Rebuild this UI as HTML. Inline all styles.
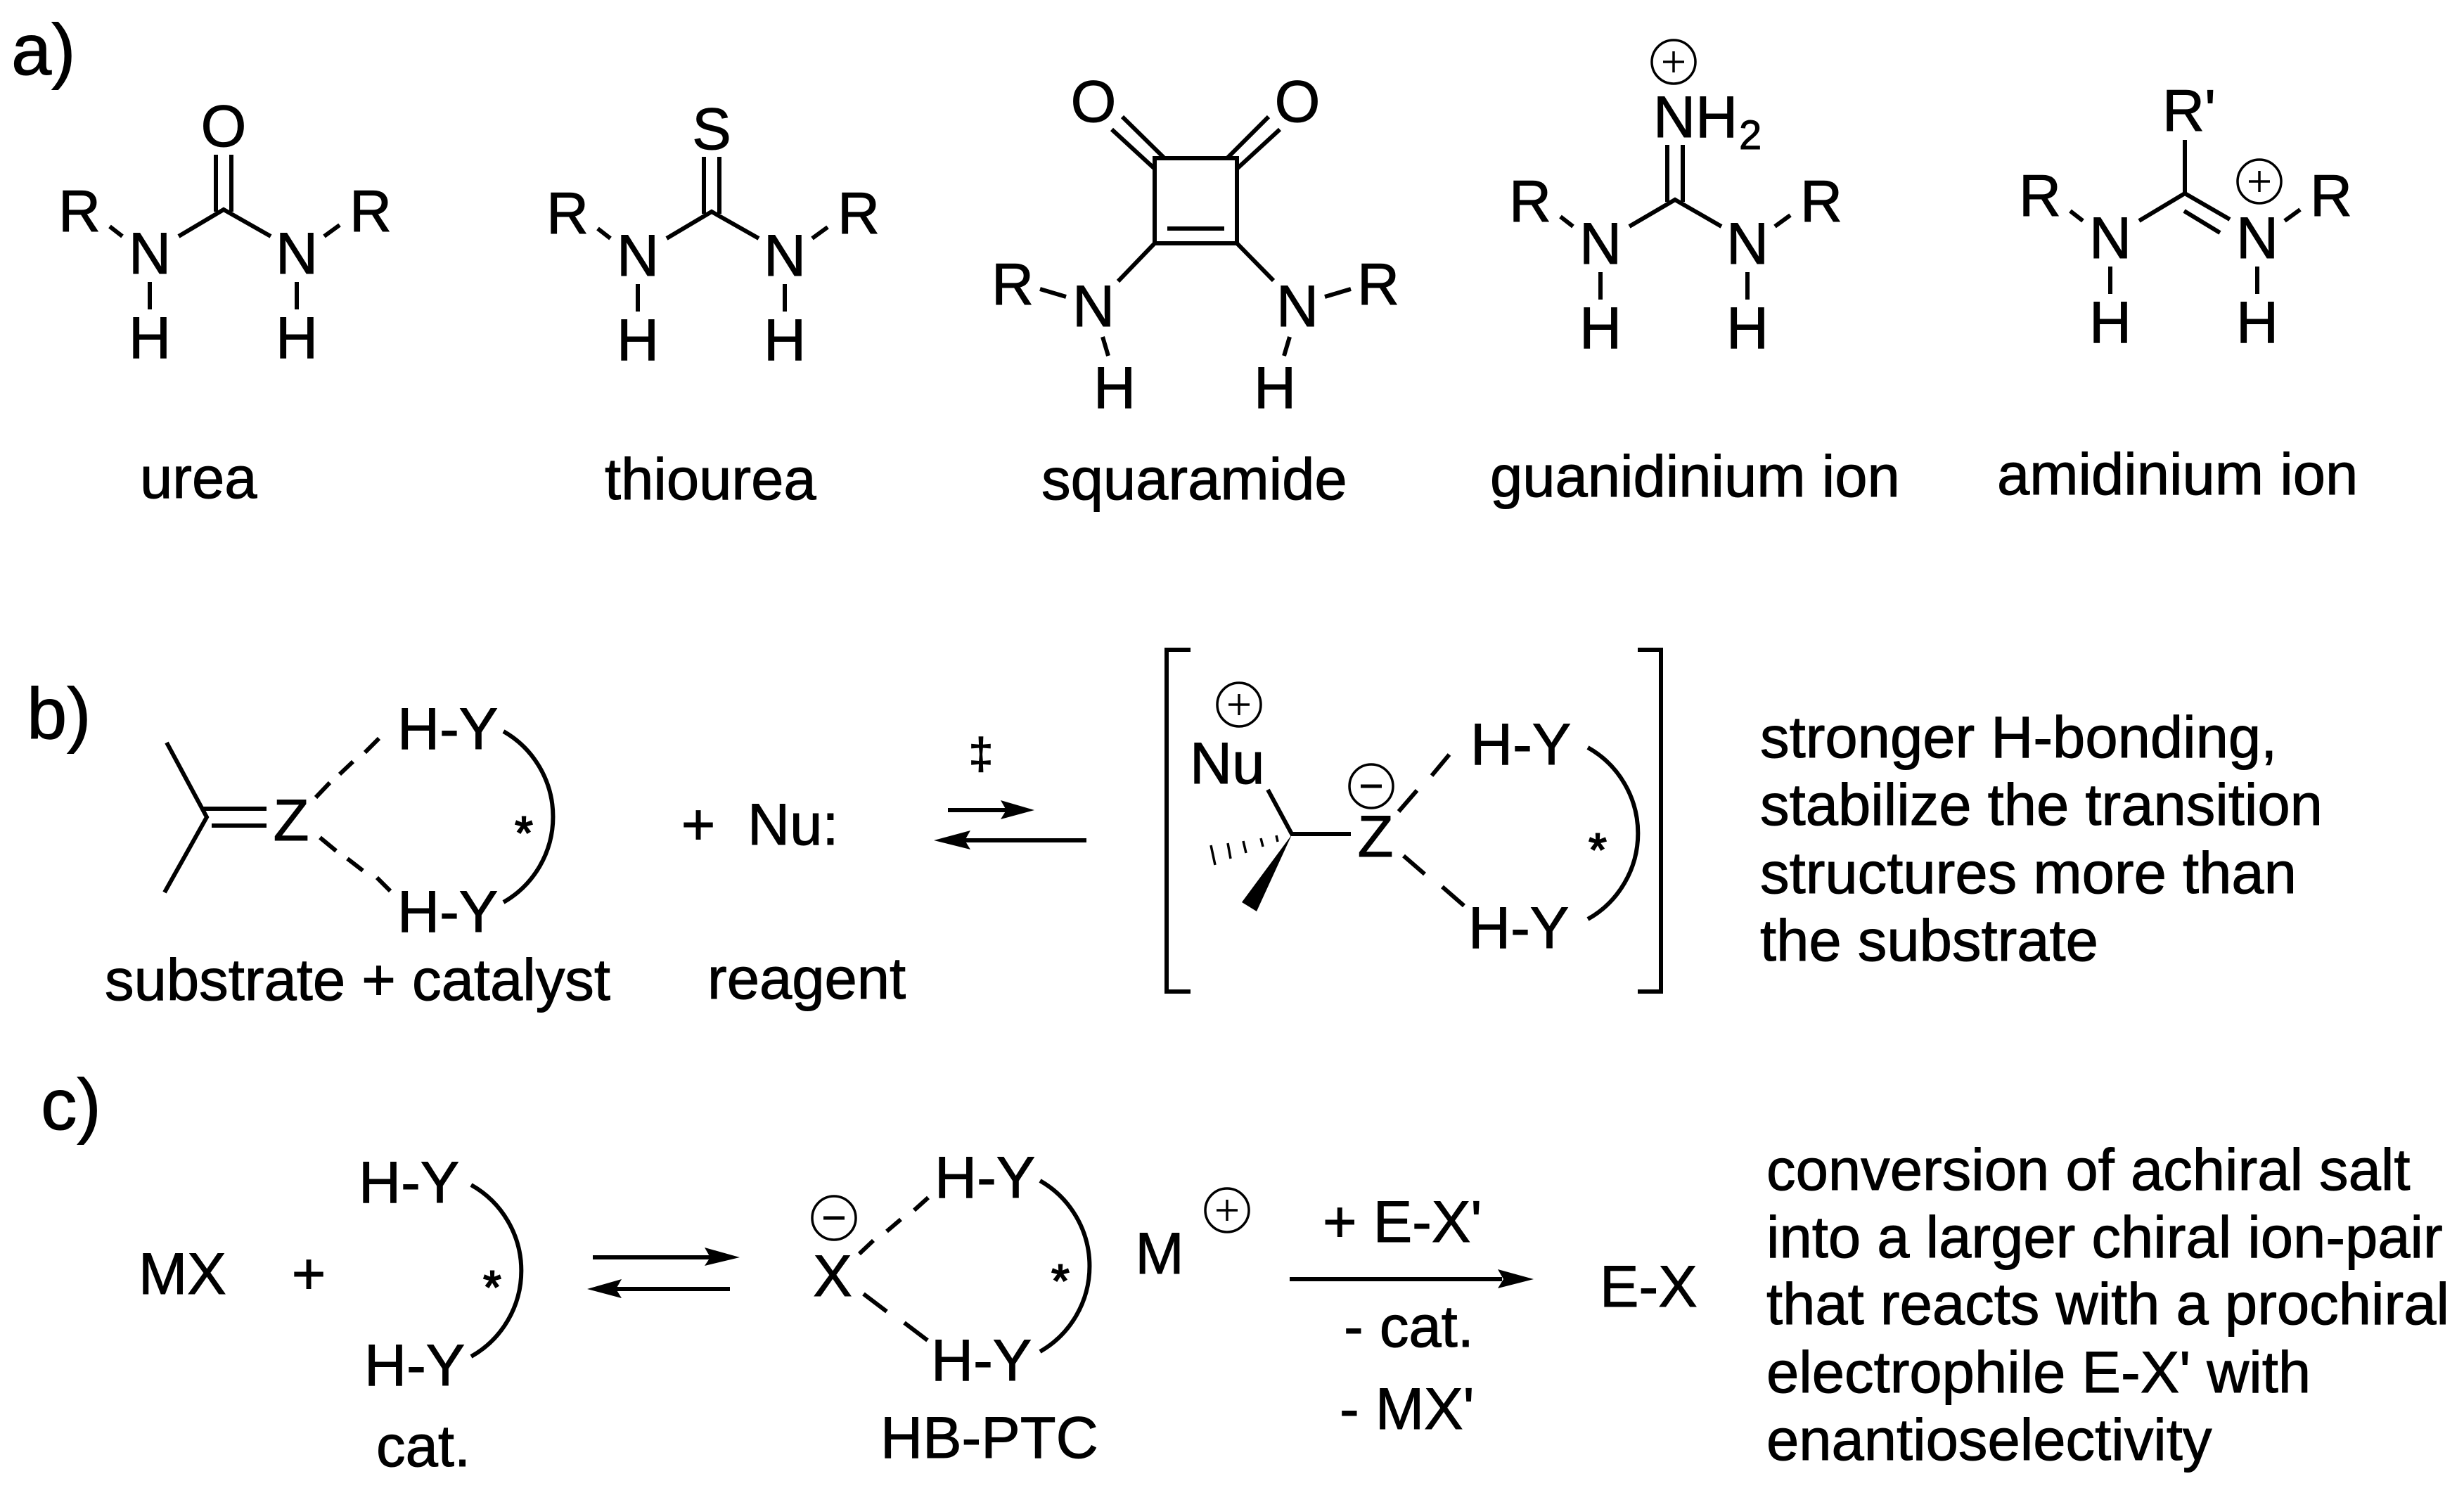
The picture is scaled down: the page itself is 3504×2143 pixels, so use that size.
<!DOCTYPE html>
<html><head><meta charset="utf-8"><style>
html,body{margin:0;padding:0;background:#fff}
svg{display:block}
text{font-family:"Liberation Sans",sans-serif;font-size:83.2px;fill:#000;stroke:#000;stroke-width:1}
.m{text-anchor:middle}
.l{font-size:103px}
.s{font-size:66px;text-anchor:middle;stroke-width:2}
line,path.b,polyline{stroke:#000;stroke-width:6;fill:none}
circle{stroke:#000;stroke-width:3.5;fill:none}
polygon{fill:#000}
</style></head><body>
<svg width="3504" height="2143" viewBox="0 0 3504 2143" xmlns="http://www.w3.org/2000/svg">
<defs>
<g id="pl"><circle r="31"/><line x1="-15" x2="15" y1="0" y2="0" style="stroke-width:3.5"/><line y1="-15" y2="15" x1="0" x2="0" style="stroke-width:3.5"/></g>
<g id="mi"><circle r="31"/><line x1="-15" x2="15" y1="0" y2="0" style="stroke-width:5"/></g>
</defs>
<text class="l" x="16" y="106">a)</text>
<text class="l" x="38" y="1050">b)</text>
<text class="l" x="58" y="1606">c)</text>

<!-- urea -->
<g>
<text class="m" x="113" y="329">R</text><text class="m" x="213" y="389">N</text><text class="m" x="213" y="509">H</text>
<text class="m" x="422" y="389">N</text><text class="m" x="422" y="509">H</text><text class="m" x="527" y="329">R</text>
<text class="m" x="318" y="208">O</text>
<line x1="307" y1="220" x2="307" y2="301"/><line x1="329" y1="220" x2="329" y2="301"/>
<polyline points="254,336 318,298 385,336"/>
<line x1="156" y1="322" x2="174" y2="336"/><line x1="461" y1="336" x2="483" y2="320"/>
<line x1="213" y1="401" x2="213" y2="440"/><line x1="422" y1="401" x2="422" y2="440"/>
</g>
<!-- thiourea -->
<g transform="translate(694,3)">
<text class="m" x="113" y="329">R</text><text class="m" x="213" y="389">N</text><text class="m" x="213" y="509">H</text>
<text class="m" x="422" y="389">N</text><text class="m" x="422" y="509">H</text><text class="m" x="527" y="329">R</text>
<text class="m" x="318" y="209">S</text>
<line x1="307" y1="220" x2="307" y2="301"/><line x1="329" y1="220" x2="329" y2="301"/>
<polyline points="254,336 318,298 385,336"/>
<line x1="156" y1="322" x2="174" y2="336"/><line x1="461" y1="336" x2="483" y2="320"/>
<line x1="213" y1="401" x2="213" y2="440"/><line x1="422" y1="401" x2="422" y2="440"/>
</g>
<!-- squaramide -->
<g>
<text class="m" x="1555" y="173">O</text><text class="m" x="1845" y="173">O</text>
<path class="b" d="M1642 225H1759V346H1642Z"/>
<line x1="1660" y1="325" x2="1741" y2="325"/>
<line x1="1596" y1="166" x2="1655" y2="224"/><line x1="1581" y1="184" x2="1642" y2="240"/>
<line x1="1804" y1="166" x2="1746" y2="224"/><line x1="1820" y1="184" x2="1759" y2="240"/>
<text class="m" x="1555" y="464">N</text><text class="m" x="1585" y="580">H</text><text class="m" x="1440" y="433">R</text>
<line x1="1642" y1="346" x2="1590" y2="400"/><line x1="1479" y1="411" x2="1516" y2="422"/><line x1="1568" y1="479" x2="1576" y2="506"/>
<text class="m" x="1845" y="464">N</text><text class="m" x="1813" y="580">H</text><text class="m" x="1960" y="433">R</text>
<line x1="1759" y1="346" x2="1811" y2="399"/><line x1="1884" y1="422" x2="1921" y2="411"/><line x1="1834" y1="479" x2="1826" y2="506"/>
</g>
<!-- guanidinium -->
<g transform="translate(2063,-14)">
<text class="m" x="113" y="329">R</text><text class="m" x="213" y="389">N</text><text class="m" x="213" y="509">H</text>
<text class="m" x="422" y="389">N</text><text class="m" x="422" y="509">H</text><text class="m" x="527" y="329">R</text>
<line x1="308" y1="220" x2="308" y2="301"/><line x1="330" y1="220" x2="330" y2="301"/>
<polyline points="254,336 319,298 385,336"/>
<line x1="156" y1="322" x2="174" y2="336"/><line x1="461" y1="336" x2="483" y2="320"/>
<line x1="213" y1="401" x2="213" y2="440"/><line x1="422" y1="401" x2="422" y2="440"/>
</g>
<text x="2351" y="195">NH</text><text x="2473" y="212" style="font-size:58px">2</text>
<use href="#pl" x="2380" y="88"/>
<!-- amidinium -->
<g transform="translate(2788,-22)">
<text class="m" x="113" y="329">R</text><text class="m" x="213" y="389">N</text><text class="m" x="213" y="509">H</text>
<text class="m" x="422" y="389">N</text><text class="m" x="422" y="509">H</text><text class="m" x="527" y="329">R</text>
<polyline points="254,336 319,297 383,334"/>
<line x1="156" y1="322" x2="174" y2="336"/><line x1="461" y1="336" x2="483" y2="320"/>
<line x1="213" y1="401" x2="213" y2="440"/><line x1="422" y1="401" x2="422" y2="440"/>
</g>
<text x="3075" y="186">R'</text>
<line x1="3107" y1="199" x2="3107" y2="275"/>
<line x1="3106" y1="300" x2="3157" y2="331"/>
<use href="#pl" x="3213" y="258"/>

<text x="199" y="708">urea</text>
<text x="860" y="710">thiourea</text>
<text x="1481" y="710">squaramide</text>
<text x="2119" y="706">guanidinium ion</text>
<text x="2840" y="703">amidinium ion</text>

<!-- b left -->
<polyline points="237,1056 294,1162 234,1269"/>
<line x1="288" y1="1150" x2="379" y2="1150"/><line x1="301" y1="1174" x2="379" y2="1174"/>
<text class="m" x="414" y="1195">Z</text>
<line x1="449" y1="1134" x2="469" y2="1113"/><line x1="483" y1="1101" x2="502" y2="1083"/><line x1="519" y1="1070" x2="539" y2="1050"/>
<line x1="455" y1="1191" x2="478" y2="1210"/><line x1="494" y1="1221" x2="516" y2="1238"/><line x1="536" y1="1248" x2="555" y2="1267"/>
<text x="565" y="1065">H-Y</text>
<text x="565" y="1325">H-Y</text>
<path class="b" d="M716 1040A140 140 0 0 1 716 1283"/>
<text class="s" x="745" y="1207">*</text>
<text class="m" x="993" y="1201">+</text>
<text x="1063" y="1201">Nu:</text>
<text x="1395" y="1093" style="font-size:62px;text-anchor:middle;stroke-width:1.5">‡</text>
<line x1="1348" y1="1152" x2="1440" y2="1152"/><polygon points="1471,1152 1423,1138 1431,1152 1423,1165"/>
<line x1="1545" y1="1195" x2="1370" y2="1195"/><polygon points="1328,1195 1380,1181 1372,1195 1380,1208"/>
<text x="149" y="1422">substrate + catalyst</text>
<text x="1006" y="1420">reagent</text>

<!-- TS -->
<polyline points="1693,924 1659,924 1659,1410 1693,1410"/>
<polyline points="2329,924 2362,924 2362,1410 2329,1410"/>
<use href="#pl" x="1762" y="1002"/>
<text x="1692" y="1114">Nu</text>
<line x1="1803" y1="1123" x2="1837" y2="1186"/>
<line x1="1835" y1="1186" x2="1921" y2="1186"/>
<text class="m" x="1956" y="1218">Z</text>
<use href="#mi" x="1950" y="1118"/>
<polygon points="1837,1187 1766,1283 1787,1296"/>
<line x1="1815" y1="1188" x2="1817" y2="1197" style="stroke-width:3.5"/>
<line x1="1793" y1="1192" x2="1796" y2="1204" style="stroke-width:3.5"/>
<line x1="1768" y1="1196" x2="1772" y2="1213" style="stroke-width:3.5"/>
<line x1="1746" y1="1199" x2="1750" y2="1221" style="stroke-width:3.5"/>
<line x1="1722" y1="1202" x2="1728" y2="1230" style="stroke-width:3.5"/>
<line x1="2061" y1="1073" x2="2036" y2="1103"/><line x1="2015" y1="1124" x2="1989" y2="1154"/>
<line x1="1996" y1="1217" x2="2026" y2="1243"/><line x1="2051" y1="1261" x2="2082" y2="1288"/>
<text x="2091" y="1087">H-Y</text>
<text x="2088" y="1348">H-Y</text>
<path class="b" d="M2258 1063A140 140 0 0 1 2258 1307"/>
<text class="s" x="2272" y="1231">*</text>
<text x="2503" y="1077">stronger H-bonding,</text>
<text x="2503" y="1173">stabilize the transition</text>
<text x="2503" y="1270">structures more than</text>
<text x="2503" y="1366">the substrate</text>

<!-- c -->
<text x="197" y="1840">MX</text>
<text class="m" x="439" y="1840">+</text>
<text x="510" y="1710">H-Y</text>
<text x="518" y="1970">H-Y</text>
<path class="b" d="M670 1685A140 140 0 0 1 670 1929"/>
<text class="s" x="700" y="1853">*</text>
<text x="535" y="2085">cat.</text>
<line x1="843" y1="1788" x2="1016" y2="1788"/><polygon points="1052,1788 1002,1774 1010,1788 1002,1800"/>
<line x1="1038" y1="1833" x2="876" y2="1833"/><polygon points="835,1833 884,1819 876,1833 884,1846"/>
<text class="m" x="1184" y="1843">X</text>
<use href="#mi" x="1186" y="1732"/>
<line x1="1320" y1="1703" x2="1300" y2="1721"/><line x1="1281" y1="1734" x2="1261" y2="1751"/><line x1="1242" y1="1764" x2="1222" y2="1783"/>
<line x1="1228" y1="1840" x2="1261" y2="1865"/><line x1="1286" y1="1881" x2="1319" y2="1906"/>
<text x="1329" y="1703">H-Y</text>
<text x="1324" y="1963">H-Y</text>
<path class="b" d="M1479 1679A140 140 0 0 1 1479 1922"/>
<text class="s" x="1508" y="1844">*</text>
<text class="m" x="1649" y="1811">M</text>
<use href="#pl" x="1745" y="1721"/>
<text x="1252" y="2073">HB-PTC</text>
<text x="1881" y="1766">+ E-X'</text>
<line x1="1834" y1="1819" x2="2136" y2="1819"/><polygon points="2181,1819 2130,1805 2138,1819 2130,1832"/>
<text x="2275" y="1858">E-X</text>
<text x="1911" y="1915">- cat.</text>
<text x="1905" y="2032">- MX'</text>
<text x="2512" y="1692">conversion of achiral salt</text>
<text x="2512" y="1788">into a larger chiral ion-pair</text>
<text x="2512" y="1883">that reacts with a prochiral</text>
<text x="2512" y="1980">electrophile E-X' with</text>
<text x="2512" y="2076">enantioselectivity</text>
</svg>
</body></html>
